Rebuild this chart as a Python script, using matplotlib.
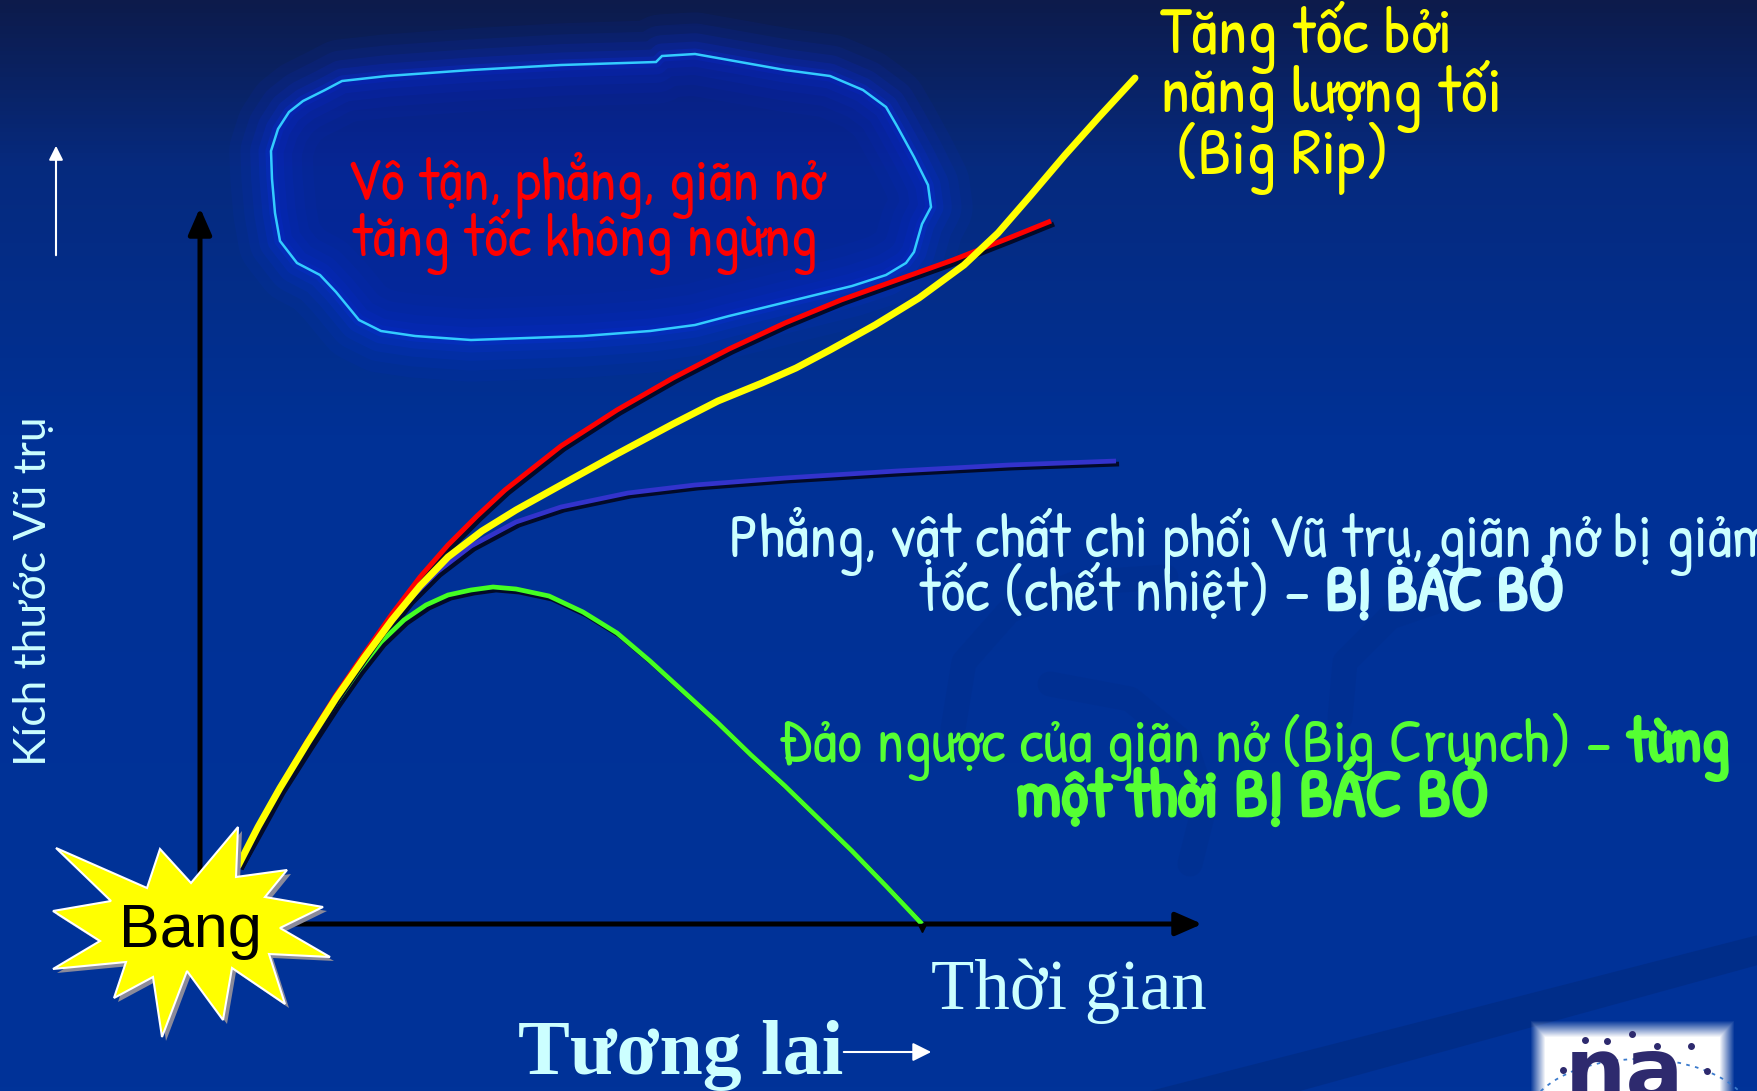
import numpy as np
import matplotlib
matplotlib.use('Agg')
import matplotlib.pyplot as plt
import matplotlib.patheffects as pe
from matplotlib.colors import LinearSegmentedColormap
from matplotlib.patches import Polygon, Arc

# expansion histories of the universe: time along the horizontal axis,
# size of the universe up the vertical axis (origin = the Big Bang corner)
red_t = [38, 58, 80, 108, 136, 164, 192, 220, 248, 277, 305, 361, 417, 473, 529, 585, 641, 697, 753, 809, 851]
red_size = [58, 97, 137, 184, 229, 270, 310, 347, 379, 408, 434, 478, 514, 546, 575, 601, 624, 644, 664, 686, 703]

yellow_t = [38, 58, 80, 108, 136, 164, 192, 220, 248, 282, 316, 361, 417, 473, 518, 562, 596, 630, 675, 719, 764, 798, 831, 865, 899, 935]
yellow_size = [58, 97, 136, 182, 226, 266, 304, 338, 367, 393, 414, 439, 470, 500, 523, 541, 556, 574, 599, 626, 659, 691, 729, 769, 807, 846]

blue_t = [38, 58, 80, 108, 136, 164, 187, 209, 237, 271, 316, 361, 428, 495, 585, 697, 809, 916]
blue_size = [58, 97, 136, 182, 226, 265, 296, 324, 352, 378, 402, 417, 431, 439, 446, 453, 459, 463]

green_t = [38, 58, 80, 108, 136, 159, 181, 204, 226, 248, 271, 293, 316, 349, 383, 417, 450, 484, 518, 551, 585, 618, 652, 686, 722]
green_size = [58, 94, 134, 178, 221, 254, 282, 304, 319, 329, 334, 337, 335, 328, 312, 291, 263, 232, 201, 169, 138, 106, 73, 38, 0]

# outline of the "infinite, flat" bubble
cloud_t = [187, 271, 361, 456, 462, 495, 540, 585, 630, 663, 686, 697, 714, 728, 731, 722, 714, 706,
           686, 652, 607, 562, 529, 495, 450, 383, 271, 215, 181, 159, 136, 120, 97, 80, 75, 72, 71, 78,
           89, 103, 125, 142]
cloud_size = [848, 854, 859, 862, 868, 870, 862, 854, 848, 834, 817, 798, 767, 739, 717, 700, 672, 661,
              649, 638, 627, 616, 608, 599, 593, 588, 584, 588, 593, 604, 632, 649, 661, 683, 711, 745, 773, 795,
              812, 823, 834, 843]

# the "Bang" burst
star_t = [-144, -53, -40, -9, 38, 36, 87, 65, 123, 80, 130, 69, 85, 32, 23, -13, -38, -47, -86, -74, -147, -100, -147, -89]
star_size = [76, 36, 75, 41, 97, 47, 54, 27, 17, -4, -33, -30, -80, -44, -96, -47, -113, -53, -74, -38, -45, -17, 13, 23]

hand = ['Patrick Hand', 'DejaVu Sans']
pale = '#ccffff'
lime = '#55ff33'


def bold(color, w=1.8):
    # the hand font has a single weight, thicken it with a stroke
    return [pe.withStroke(linewidth=w, foreground=color)]


fig = plt.figure(figsize=(17.58, 10.91), dpi=100)
ax = fig.add_axes([0, 0, 1, 1])
ax.set_xlim(-200, 1558)
ax.set_ylim(-167, 924)
ax.axis('off')

# slide background, navy on top fading into royal blue
bg = LinearSegmentedColormap.from_list('bg', [(0, '#003399'), (0.6, '#003196'), (0.85, '#062a7e'), (1, '#0d1b4b')])
grad = np.linspace(0, 1, 256).reshape(-1, 1)
ax.imshow(grad, cmap=bg, extent=(-200, 1558, -167, 924), origin='lower', aspect='auto', zorder=0)

# faint swirls of the template
for xs, ys in [([753, 764, 809, 876, 966], [195, 262, 313, 341, 347]),
               ([1140, 1145, 1190, 1258, 1347], [206, 262, 307, 330, 341]),
               ([850, 930, 985, 1005, 990], [240, 225, 180, 120, 60])]:
    ax.plot(xs, ys, color='#00287e', lw=18, alpha=0.18, solid_capstyle='round', zorder=1)
ax.add_patch(Polygon([(950, -167), (1558, -11), (1558, -41), (1100, -167)], fc='#002a80', ec='none', alpha=0.6, zorder=1))

# glowing bubble
cloud = np.column_stack([cloud_t, cloud_size])
for lw, a in [(60, 0.07), (44, 0.09), (30, 0.12), (18, 0.16), (8, 0.22)]:
    ax.add_patch(Polygon(cloud, closed=True, fill=False, ec='#0a2ee8', lw=lw, alpha=a, joinstyle='round', zorder=2))
ax.add_patch(Polygon(cloud, closed=True, fc='#0620b4', ec='none', alpha=0.4, zorder=2))
ax.add_patch(Polygon(cloud, closed=True, fill=False, ec='#33ccff', lw=1.8, zorder=3))

# axes arrows
ax.annotate('', xy=(0, 719), xytext=(0, -60),
            arrowprops=dict(arrowstyle='-|>,head_length=0.8,head_width=0.35', lw=3.6, color='black', mutation_scale=20), zorder=4)
ax.annotate('', xy=(1005, 0), xytext=(60, 0),
            arrowprops=dict(arrowstyle='-|>,head_length=0.8,head_width=0.35', lw=3.6, color='black', mutation_scale=20), zorder=4)
ax.annotate('', xy=(-144, 781), xytext=(-144, 666),
            arrowprops=dict(arrowstyle='-|>,head_length=0.6,head_width=0.3', lw=1.5, color='white', mutation_scale=14), zorder=4)
ax.annotate('', xy=(734, -128), xytext=(641, -128),
            arrowprops=dict(arrowstyle='-|>,head_length=0.7,head_width=0.35', lw=1.5, color='white', mutation_scale=16), zorder=12)

shadow = [pe.SimpleLineShadow(offset=(2.2, -2.2), shadow_color='#020a28', alpha=1.0), pe.Normal()]
ax.plot(blue_t, blue_size, color='#3333cc', lw=3.4, solid_capstyle='butt', path_effects=shadow, zorder=5)
ax.plot(green_t, green_size, color='#44ff22', lw=3.4, solid_capstyle='butt', path_effects=shadow, zorder=6)
ax.plot(green_t[-1], green_size[-1] - 4, marker='v', color='black', ms=6, zorder=6)
ax.plot(red_t, red_size, color='#ff0000', lw=3.6, solid_capstyle='butt', path_effects=shadow, zorder=7)
ax.plot(yellow_t, yellow_size, color='#ffff00', lw=5.0, solid_capstyle='round', zorder=8)

# Bang
star = np.column_stack([star_t, star_size])
ax.add_patch(Polygon(star + [4, -4], fc='#8a8a9a', ec='none', zorder=9))
ax.add_patch(Polygon(star, fc='#ffff00', ec='white', lw=1.5, zorder=10))
ax.text(-10, -23, 'Bang', fontsize=44, family='Liberation Sans', ha='center', va='baseline', zorder=11)

# labels
ax.text(385, 724, 'Vô tận, phẳng, giãn nở', color='#ff0000', fontsize=43, family=hand, ha='center', va='baseline', zorder=12)
ax.text(385, 668, 'tăng tốc không ngừng', color='#ff0000', fontsize=43, family=hand, ha='center', va='baseline', zorder=12)

ax.text(960, 871, 'Tăng tốc bởi', color='#ffff00', fontsize=48, family=hand, ha='left', va='baseline', zorder=12)
ax.text(960, 812, 'năng lượng tối', color='#ffff00', fontsize=48, family=hand, ha='left', va='baseline', zorder=12)
ax.text(960, 750, ' (Big Rip)', color='#ffff00', fontsize=48, family=hand, ha='left', va='baseline', zorder=12)

ax.text(529, 367, 'Phẳng, vật chất chi phối Vũ trụ, giãn nở bị giảm', color=pale, fontsize=44.5, family=hand,
        ha='left', va='baseline', zorder=12)
t1 = ax.text(719, 313, 'tốc (chết nhiệt) –', color=pale, fontsize=44.5, family=hand, ha='left', va='baseline', zorder=12)
ax.annotate('BỊ BÁC BỎ', xy=(1, 0), xycoords=t1, xytext=(11, 0), textcoords='offset points', color=pale,
            fontsize=45, family=hand, va='bottom', ha='left', path_effects=bold(pale, 2.2), zorder=12)

t2 = ax.text(579, 162, 'Đảo ngược của giãn nở (Big Crunch) –', color=lime, fontsize=44.5, family=hand,
             ha='left', va='baseline', zorder=12)
ax.annotate('từng', xy=(1, 0), xycoords=t2, xytext=(11, 0), textcoords='offset points', color=lime,
            fontsize=45, family=hand, va='bottom', ha='left', path_effects=bold(lime, 2.2), zorder=12)
ax.text(1052, 108, 'một thời BỊ BÁC BỎ', color=lime, fontsize=48, family=hand, path_effects=bold(lime, 2.2),
        ha='center', va='baseline', zorder=12)

ax.text(-166, 333, 'Kích thước Vũ trụ', color=pale, fontsize=32, family=['Lato', 'DejaVu Sans'], rotation=90,
        ha='center', va='center', zorder=12)
ax.text(731, -85, 'Thời gian', color=pale, fontsize=51, family='Liberation Serif', ha='left', va='baseline', zorder=12)
ax.text(318, -150, 'Tương lai', color=pale, fontsize=56, family='Liberation Serif', weight='bold',
        ha='left', va='baseline', zorder=11)

# logo in the corner: white tile with soft edges
yy, xx = np.mgrid[0:90, 0:220]
edge = np.minimum(np.minimum(xx, 219 - xx), np.minimum(yy, 89 - yy) + 0.0)
tile = np.ones((90, 220, 4))
tile[..., 3] = np.clip(edge / 16.0, 0, 1)
ax.imshow(tile, extent=(1330, 1535, -190, -96), origin='lower', zorder=12, interpolation='bilinear')
ax.add_patch(Arc((1440, -200), 230, 130, theta1=15, theta2=165, color='#3a7acc', lw=1.3, ls=(0, (2, 3)), zorder=13))
for dx, dy in [(1385, -116), (1407, -117), (1432, -110), (1457, -122), (1491, -122), (1507, -147), (1363, -146)]:
    ax.plot(dx, dy, 'o', color='#2e2a6e', ms=4, zorder=13)
ax.text(1425, -175, 'na', color='#2e2a6e', fontsize=62, family='DejaVu Sans', weight='bold', ha='center',
        va='baseline', zorder=13)

ax.set_xlim(-200, 1558)
ax.set_ylim(-167, 924)
fig.savefig('out.png', dpi=100)
